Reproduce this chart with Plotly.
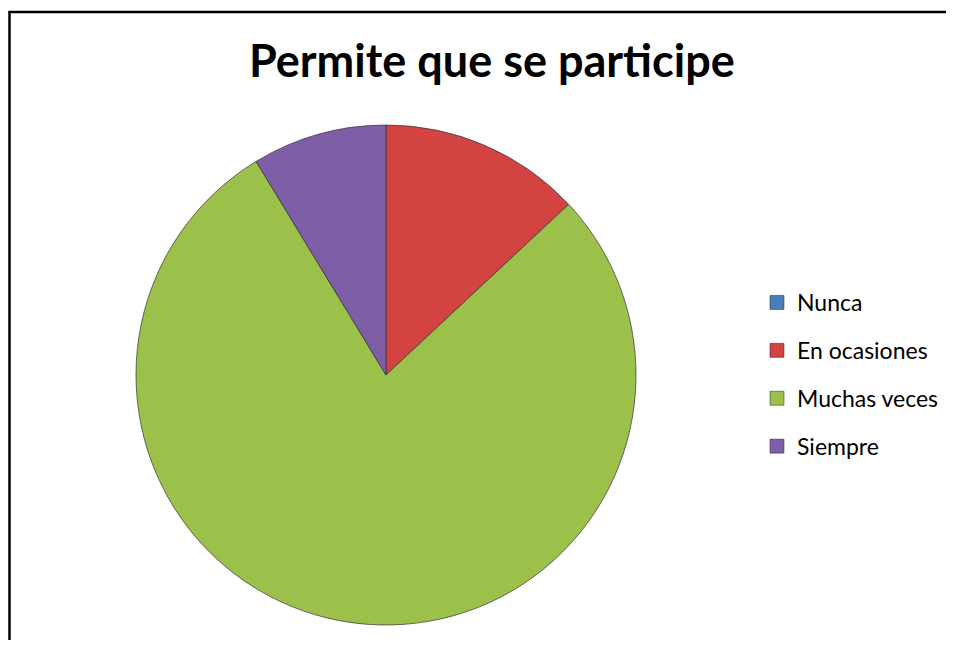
import plotly.graph_objects as go

labels = ["Nunca", "En ocasiones", "Muchas veces", "Siempre"]
values = [0, 3, 18, 2]
colors = ["#4A7EBB", "#D24341", "#9BC14B", "#7E5FA7"]
title = "Permite que se participe"

# page body has an 8px default margin, so the figure is shifted by 8px;
# keep the figure inside the window so no scrollbars appear
OFF = 8
W, H = 961 - 2 * OFF, 652 - 2 * OFF - 4
cx, cy, r = 386 - OFF, 375 - OFF, 250

def px(x):
    return (x - OFF) / W

def py(y):
    return 1 - (y - OFF) / H

fig = go.Figure()
fig.add_trace(go.Pie(
    labels=labels, values=values, sort=False, direction="clockwise", rotation=0,
    marker=dict(colors=colors, line=dict(color="rgba(50,50,50,0.7)", width=1)),
    textinfo="none", hoverinfo="label+value+percent", showlegend=False,
    domain=dict(x=[(cx - r) / W, (cx + r) / W], y=[1 - (cy + r) / H, 1 - (cy - r) / H]),
))
for lab, col in zip(labels, colors):
    fig.add_trace(go.Scatter(
        x=[None], y=[None], mode="markers", name=lab, legendgroup=lab,
        marker=dict(symbol="square", size=14, color=col, line=dict(color="rgba(40,40,40,0.5)", width=1)),
    ))

fig.update_layout(
    width=W, height=H, margin=dict(l=0, r=0, t=0, b=0),
    paper_bgcolor="white", plot_bgcolor="white",
    xaxis=dict(visible=False), yaxis=dict(visible=False),
    font=dict(family="Lato, Calibri, sans-serif", color="black"),
    legend=dict(x=px(757), y=py(281), xanchor="left", yanchor="top",
                font=dict(size=23, family="Lato, Calibri, sans-serif"),
                tracegroupgap=15, itemwidth=30, bgcolor="rgba(0,0,0,0)"),
    annotations=[dict(text="<b>" + title + "</b>", x=px(492), y=py(60),
                      xref="paper", yref="paper", xanchor="center", yanchor="middle",
                      showarrow=False, font=dict(size=45, family="Lato, Calibri, sans-serif", color="black"))],
    shapes=[
        dict(type="line", xref="paper", yref="paper", x0=px(9.5), y0=0, x1=px(9.5), y1=py(12),
             line=dict(color="black", width=2.5), layer="below"),
        dict(type="line", xref="paper", yref="paper", x0=px(8.3), y0=py(12), x1=px(946), y1=py(12),
             line=dict(color="black", width=2.5), layer="below"),
    ],
)
fig.write_html("out.html")
